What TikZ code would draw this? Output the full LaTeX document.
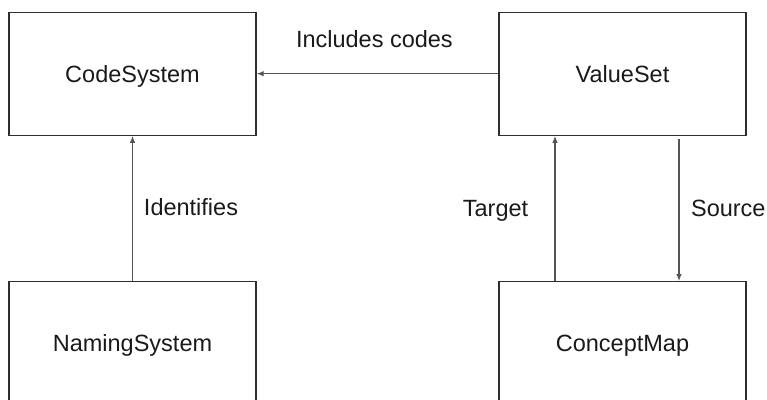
\documentclass[tikz,border=0pt]{standalone}
\usepackage{fontspec}
\setmainfont{Liberation Sans}
\usetikzlibrary{arrows.meta}
\definecolor{boxline}{HTML}{2E2E2E}
\definecolor{linkline}{HTML}{555555}
\definecolor{inktext}{HTML}{1A1A1A}
\tikzset{
  resource/.style={draw=boxline, line width=1.2pt, rectangle, inner sep=0pt,
    minimum width=247pt, minimum height=123pt, text=inktext, text depth=0pt,
    font=\fontsize{23.5}{28}\selectfont},
  link/.style={draw=linkline, line width=1.2pt,
    -{Latex[length=7pt, width=5.5pt]}},
  linklabel/.style={inner sep=0pt, anchor=base, text=inktext,
    font=\fontsize{23.5}{28}\selectfont}
}
\begin{document}
\begin{tikzpicture}[x=1pt, y=-1pt]
  \useasboundingbox (0,0) rectangle (767,399);
  \clip (0,0) rectangle (767,399);

  % resources
  \node[resource] (cs) at (132.5,73.7)  {CodeSystem};
  \node[resource] (vs) at (622.5,73.7)  {ValueSet};
  \node[resource] (ns) at (132.5,343.2) {NamingSystem};
  \node[resource] (cm) at (622.5,343.2) {ConceptMap};

  % x positions of the two links between ValueSet and ConceptMap
  \coordinate (tx) at (555,0);
  \coordinate (sx) at (679,0);

  % links
  \draw[link] (vs) -- (cs);
  \draw[link] (ns) -- (cs);
  \draw[link] (cm.north -| tx) -- (vs.south -| tx);
  \draw[link, shorten <=3pt] (vs.south -| sx) -- (cm.north -| sx);

  % link labels
  \node[linklabel] (lincl) at (374.4,47)  {Includes codes};
  \node[linklabel] (lid)   at (191,215.5) {Identifies};
  \node[linklabel] (ltgt)  at (495.5,216) {Target};
  \node[linklabel] (lsrc)  at (728.3,216) {Source};
\end{tikzpicture}
\end{document}
